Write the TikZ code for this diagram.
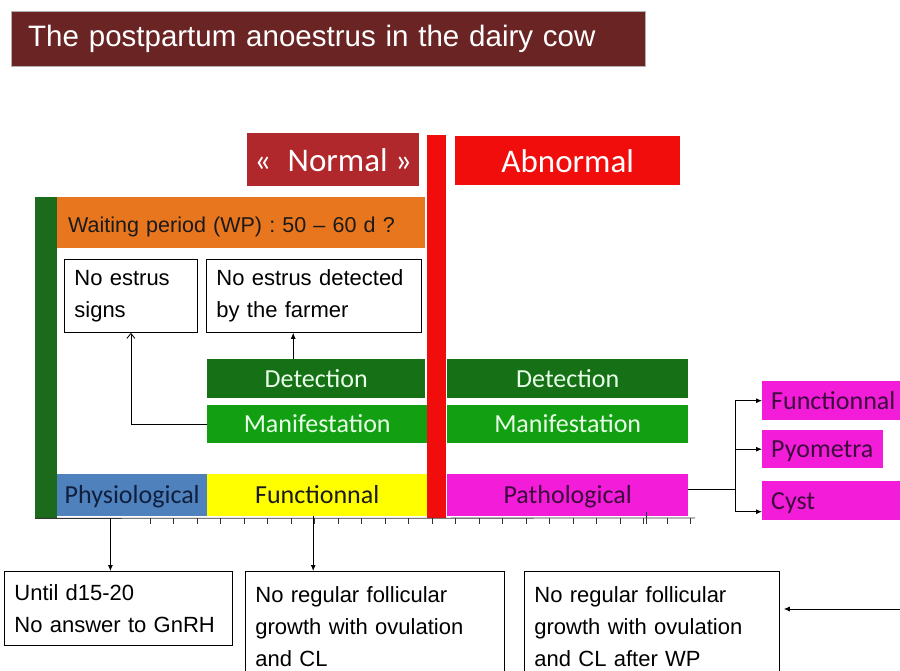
\documentclass[tikz,border=0pt]{standalone}
\usepackage{fontspec}
\setmainfont{Liberation Sans}
\newfontfamily\calibrifont{Carlito}
\usetikzlibrary{arrows.meta,positioning,calc}
\definecolor{Maroon}{HTML}{6A2424}
\definecolor{DarkRed}{HTML}{B0282C}
\definecolor{BrightRed}{HTML}{F20D0D}
\definecolor{DarkGreen}{HTML}{1C6B1C}
\definecolor{Orange}{HTML}{E8761E}
\definecolor{DetGreen}{HTML}{167016}
\definecolor{ManGreen}{HTML}{12A012}
\definecolor{LightText}{HTML}{E8FFE8}
\definecolor{PhysBlue}{HTML}{4F81BD}
\definecolor{FuncYellow}{HTML}{FFFF00}
\definecolor{PathMagenta}{HTML}{F21CD9}
\definecolor{DarkText}{HTML}{1A1A1A}
\definecolor{NavyText}{HTML}{0F1F3D}
\definecolor{PlumText}{HTML}{3D0A3D}
\tikzset{
  title/.style={anchor=north west, fill=Maroon, draw=gray!60, text=white, inner xsep=17pt, inner ysep=0pt, align=left, font=\fontsize{29.5}{34}\selectfont},
  bar/.style={anchor=north west, inner sep=0pt, text height=18pt, text depth=1pt, font=\calibrifont\fontsize{26}{30}\selectfont},
  head/.style={bar, text=white, text height=24pt, text depth=1pt, font=\calibrifont\fontsize{33}{36}\selectfont},
  leftbar/.style={bar, align=left, inner xsep=9pt},
  txtbox/.style={anchor=north west, draw=black, line width=0.8pt, align=left, inner xsep=10pt, inner ysep=0pt, font=\fontsize{22}{32}\selectfont},
  arr/.style={-{Latex[length=6pt,width=5pt]}, draw=black, line width=0.8pt},
  arrO/.style={-{Straight Barb[length=5pt,width=8pt]}, draw=black, line width=0.8pt},
  link/.style={draw=black, line width=0.8pt},
  tick/.style={draw=black!80, line width=0.8pt}
}
\begin{document}
\begin{tikzpicture}[x=1pt,y=-1pt]
\useasboundingbox (0,0) rectangle (900,671);
\fill[white] (0,0) rectangle (900,671);
\clip (0,0) rectangle (900,671);
% title
\node[title, minimum width=634, minimum height=55, text width=600] (ttl) at (11,11) {The postpartum anoestrus in the dairy cow};
% headings
\node[head, fill=DarkRed, minimum width=172, minimum height=53] (normal) at (247,133) {«\enspace Normal »};
\node[head, fill=BrightRed, minimum width=225, minimum height=49] (abnormal) at (455,136) {Abnormal};
% waiting period
\node[bar, fill=DarkGreen, minimum width=22, minimum height=321] (greenbar) at (35,197) {};
\node[bar, fill=Orange, text=DarkText, minimum width=368, minimum height=51, align=left, inner xsep=11pt, text width=346, text height=20pt, text depth=0pt, font=\fontsize{21.5}{26}\selectfont] (waiting) at (57,197) {Waiting period (WP) : 50 -- 60 d ?};
\node[txtbox, minimum width=133, minimum height=73, text width=113] (signs) at (64,259) {No estrus\\signs};
\node[txtbox, minimum width=215, minimum height=73, text width=195] (farmer) at (206,259) {No estrus detected\\by the farmer};
% detection / manifestation
\node[bar, fill=DetGreen, text=LightText, minimum width=218, minimum height=39] (detL) at (207,359) {Detection};
\node[bar, fill=ManGreen, text=LightText, minimum width=220, minimum height=38] (manL) at (207,405) {Manifestation};
\node[bar, fill=DetGreen, text=LightText, minimum width=241, minimum height=39] (detR) at (447,359) {Detection};
\node[bar, fill=ManGreen, text=LightText, minimum width=241, minimum height=38] (manR) at (447,405) {Manifestation};
% types
\node[bar, fill=PhysBlue, text=NavyText, minimum width=150, minimum height=42] (physio) at (57,474) {Physiological};
\node[bar, fill=FuncYellow, text=DarkText, minimum width=220, minimum height=42] (func) at (207,474) {Functionnal};
\node[bar, fill=PathMagenta, text=PlumText, minimum width=241, minimum height=42] (patho) at (447,474) {Pathological};
\node[bar, fill=BrightRed, minimum width=19, minimum height=383] (redbar) at (427,135) {};
\node[leftbar, fill=PathMagenta, text=PlumText, minimum width=150, minimum height=39, text width=132] (funcR) at (762,381) {Functionnal};
\node[leftbar, fill=PathMagenta, text=PlumText, minimum width=121, minimum height=38, text width=103] (pyo) at (762,430) {Pyometra};
\node[leftbar, fill=PathMagenta, text=PlumText, minimum width=150, minimum height=39, text width=132] (cyst) at (762,481) {Cyst};
% time axis
\coordinate (axisend) at (695,518);
\draw[tick] (greenbar.south west) -- (axisend);
\foreach \i in {0,...,23}{\draw[tick] ({150+23.5*\i},518) -- ++(0,6);}
\draw[tick] (646,512) -- (646,524);
% explanations
\node[txtbox, minimum width=228, minimum height=74, text width=208] (until) at (4,571) {Until d15-20\\No answer to GnRH};
\node[txtbox, minimum width=259, minimum height=110, text width=239] (regular) at (245,571) {No regular follicular\\growth with ovulation\\and CL};
\node[txtbox, minimum width=255, minimum height=110, text width=235] (afterwp) at (524,571) {No regular follicular\\growth with ovulation\\and CL after WP};
% arrows
\draw[arrO] (manL.west) -| (signs.south);
\draw[arr] ([xshift=-23]detL.north) -- ([xshift=-23]detL.north |- farmer.south);
\draw[arr] ([xshift=-8]until.north |- axisend) -- ([xshift=-8]until.north);
\draw[arr] ([xshift=-4]func.south) -- ([xshift=-4]func.south |- regular.north);
\draw[link] ([yshift=6]patho.east) -- ++(47,0) coordinate (split);
\draw[arr] (split) |- (funcR.west);
\draw[arr] (split) |- (pyo.west);
\draw[arr] (split) |- ([yshift=-11]cyst.west);
\coordinate (rin) at (900,609);
\draw[arr] (rin) -- ([xshift=4]afterwp.east |- rin);
\end{tikzpicture}
\end{document}
